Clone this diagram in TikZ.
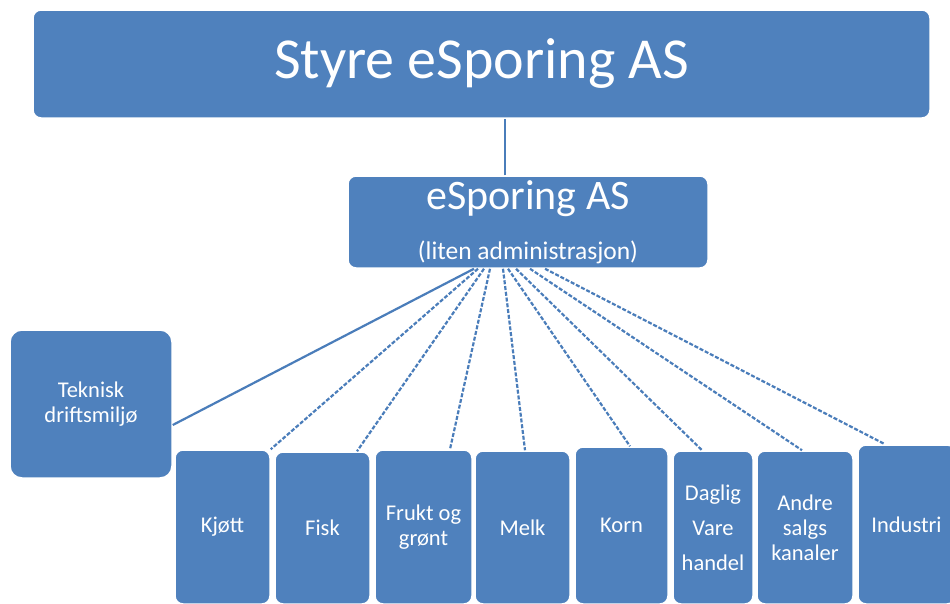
\documentclass[tikz,border=0pt]{standalone}
\usepackage{fontspec}
\setmainfont{Carlito}
\usepackage{tikz}
\usetikzlibrary{positioning}
\definecolor{boxblue}{HTML}{4F81BD}
\definecolor{lineblue}{HTML}{4A7DBA}
\tikzset{
    block/.style={rectangle, draw=white, line width=1.5pt, fill=boxblue, text=white, align=center, rounded corners=8pt, inner sep=0pt, font=\fontsize{22.5}{25}\selectfont},
    line/.style={draw=lineblue, line width=2.2pt},
    dline/.style={line, dash pattern=on 4pt off 1.8pt}
}

\begin{document}
\begin{tikzpicture}[x=1pt, y=-1pt]
    \useasboundingbox[fill=white] (0,0) rectangle (950,603);

    \node[block, minimum width=897pt, minimum height=108pt, font=\fontsize{58}{58}\selectfont] (styre) at (481.5,64) {Styre eSporing AS};
    \node[block, minimum width=360pt, minimum height=92pt, font=\fontsize{25.5}{50}\selectfont] (adm) at (528,222) {{\fontsize{42}{42}\selectfont eSporing AS}\\(liten administrasjon)};

    \node[block, rounded corners=12pt, minimum width=162pt, minimum height=148pt] (tek) at (91,404) {Teknisk\\driftsmiljø};

    % bottom row
    \node[block, minimum width=95pt, minimum height=154pt] (kjott) at (222.5,527) {Kjøtt};
    \node[block, minimum width=95pt, minimum height=152pt] (fisk) at (322.5,528) {Fisk};
    \node[block, minimum width=97pt, minimum height=154pt] (frukt) at (423.5,527) {Frukt og\\grønt};
    \node[block, minimum width=95pt, minimum height=153pt] (melk) at (522.5,527.5) {Melk};
    \node[block, minimum width=93pt, minimum height=157pt] (korn) at (621.5,525.5) {Korn};
    \node[block, minimum width=80pt, minimum height=153pt] (daglig) at (713,527.5) {Daglig\\[10pt]Vare\\[10pt]handel};
    \node[block, minimum width=96pt, minimum height=153pt] (andre) at (805,527.5) {Andre\\salgs\\kanaler};
    \node[block, minimum width=97pt, minimum height=159pt] (industri) at (906.5,524.5) {Industri};

    \draw[line] ([xshift=-23pt]adm.north) -- ([xshift=-23pt]adm.north |- styre.south);

    \draw[line] ([xshift=-54pt]adm.south) -- ([yshift=-21pt]tek.east);
    \draw[dline] ([xshift=-50pt]adm.south) -- (kjott.north east);
    \draw[dline] ([xshift=-44pt]adm.south) -- ([xshift=34.5pt]fisk.north);
    \draw[dline] ([xshift=-38pt]adm.south) -- ([xshift=26.5pt]frukt.north);
    \draw[dline] ([xshift=-25pt]adm.south) -- ([xshift=2.5pt]melk.north);
    \draw[dline] ([xshift=-20pt]adm.south) -- ([xshift=8.5pt]korn.north);
    \draw[dline] ([xshift=-12pt]adm.south) -- ([xshift=-11pt]daglig.north);
    \draw[dline] ([xshift=2pt]adm.south) -- ([xshift=-3pt]andre.north);
    \draw[dline] ([xshift=17pt]adm.south) -- ([xshift=-21.5pt]industri.north);
\end{tikzpicture}
\end{document}
